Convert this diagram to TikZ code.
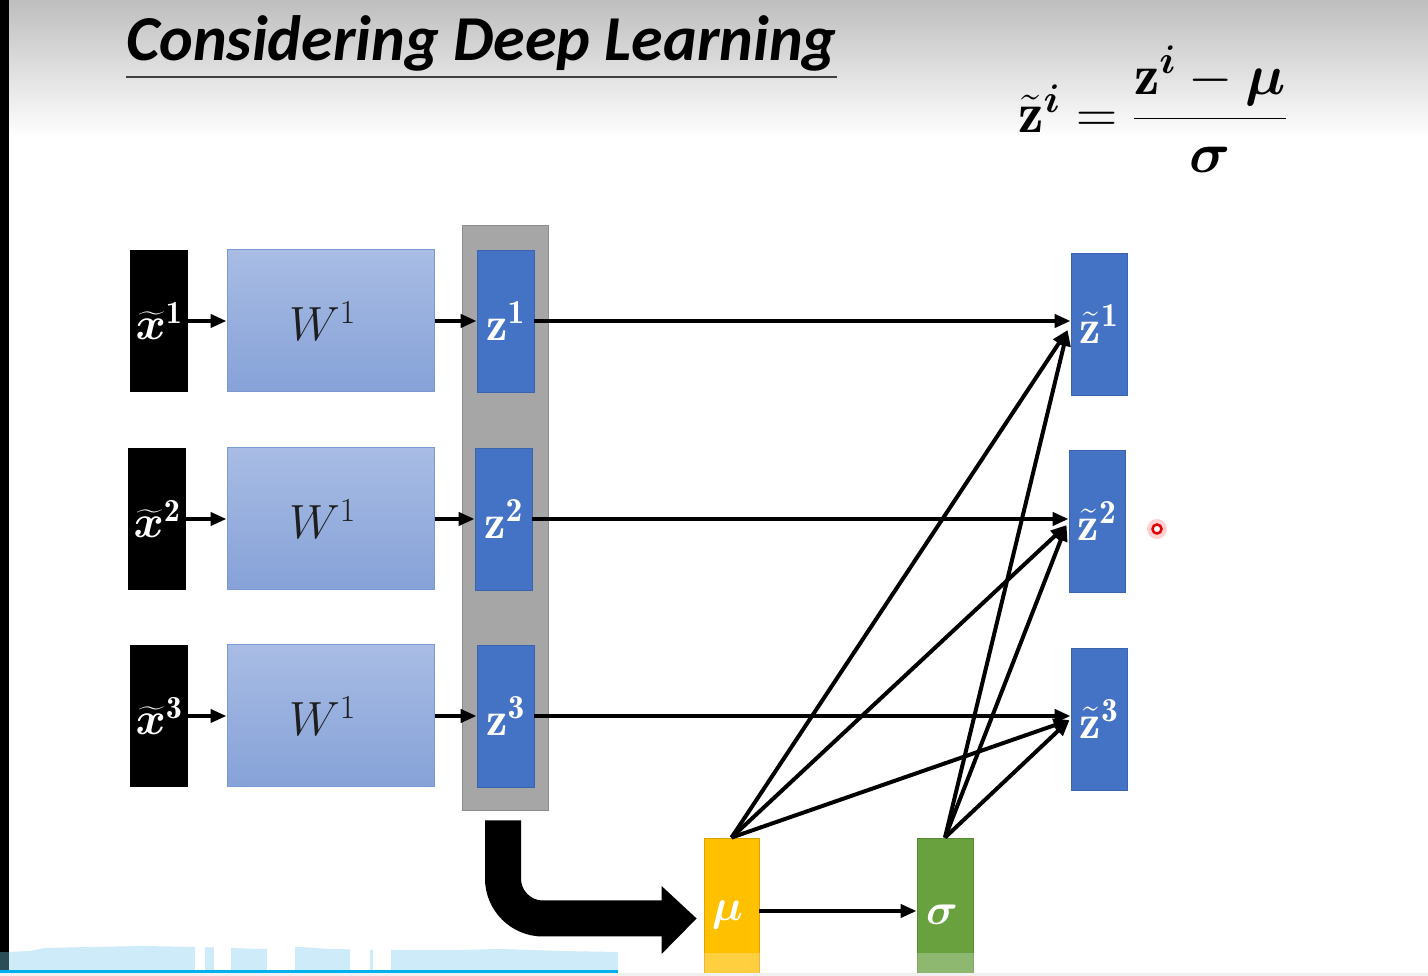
\RequirePackage{fix-cm}
\documentclass[tikz,border=0pt]{standalone}
\usepackage{amsmath,bm}
\usepackage{fontspec}
\newfontfamily\titlefont{Carlito}
\usetikzlibrary{arrows.meta,calc}
\definecolor{bgtop}{RGB}{190,190,190}
\definecolor{zblue}{HTML}{4472C4}
\definecolor{zborder}{HTML}{3C64AE}
\definecolor{wtop}{HTML}{A8BCE4}
\definecolor{wbot}{HTML}{86A2D8}
\definecolor{wborder}{HTML}{7A9AD6}
\definecolor{wtext}{HTML}{1E1E1E}
\definecolor{colgray}{HTML}{A6A6A6}
\definecolor{colborder}{HTML}{8C8C8C}
\definecolor{muyellow}{HTML}{FFC000}
\definecolor{sggreen}{HTML}{69A13F}
\definecolor{barblue}{HTML}{CDEBF8}
\definecolor{lineblue}{HTML}{00B0F0}
\definecolor{teal}{HTML}{2B4D58}
\newcommand\myfs[1]{\fontsize{#1}{#1}\selectfont}
\newcommand\padr[1]{\hspace{#1}\mbox{}}
\begin{document}
\begin{tikzpicture}[x=1pt,y=1pt,
  conn/.style={-{Triangle[length=16pt,width=13pt]},line width=4pt},
  xbox/.style={fill=black,minimum width=58pt,minimum height=142pt,inner sep=0pt,text=white,font=\myfs{46}},
  wbox/.style={draw=wborder,line width=1pt,top color=wtop,bottom color=wbot,minimum width=207pt,minimum height=142pt,inner sep=0pt,text=wtext,font=\myfs{48}},
  zbox/.style={fill=zblue,draw=zborder,line width=0.8pt,minimum width=57pt,minimum height=142pt,inner sep=0pt,text=white,font=\myfs{48}},
  statbox/.style={line width=0.8pt,minimum width=55pt,minimum height=154pt,inner sep=0pt,text=white,font=\myfs{44}}]
\useasboundingbox (0,0) rectangle (1428,976);
\clip (0,0) rectangle (1428,976);
\fill[white] (0,0) rectangle (1428,976);
\shade[top color=bgtop,bottom color=white] (0,838) rectangle (1428,976);
\fill[black] (0,0) rectangle (9,976);

% title
\node[anchor=base west,inner sep=0pt,font=\titlefont\bfseries\itshape\myfs{64}] (title) at (126,915) {Considering Deep Learning};
\draw[line width=2pt,black!75] ([yshift=-16pt]title.base west) -- ([yshift=-16pt]title.base east);

% formula
\node[anchor=base west,inner sep=0pt,font=\myfs{57}] (formula) at (1018,843)
  {$\tilde{\mathbf{z}}^{\bm{i}} = \dfrac{\mathbf{z}^{\bm{i}} - \bm{\mu}}{\bm{\sigma}}$};

% gray column
\node[fill=colgray,draw=colborder,line width=1pt,minimum width=86pt,minimum height=585pt,inner sep=0pt] (zcol) at (505,457.5) {};

% inputs
\node[xbox] (x1) at (159,655) {$\widetilde{\bm{x}}^{\mathbf{1}}$};
\node[xbox] (x2) at (157,457) {$\widetilde{\bm{x}}^{\mathbf{2}}$};
\node[xbox] (x3) at (159,260) {$\widetilde{\bm{x}}^{\mathbf{3}}$};

% weights
\node[wbox] (w1) at (330.5,655) {$W^1$\padr{16pt}};
\node[wbox] (w2) at (330.5,457) {$W^1$\padr{16pt}};
\node[wbox] (w3) at (330.5,260) {$W^1$\padr{16pt}};

% z
\node[zbox] (z1) at (505.5,655) {$\mathbf{z}^{\mathbf{1}}$};
\node[zbox] (z2) at (503.5,457) {$\mathbf{z}^{\mathbf{2}}$};
\node[zbox] (z3) at (505.5,260) {$\mathbf{z}^{\mathbf{3}}$};

% z tilde
\node[zbox,minimum width=56pt] (zt1) at (1099,652) {$\tilde{\mathbf{z}}^{\mathbf{1}}$};
\node[zbox,minimum width=56pt] (zt2) at (1097,455) {$\tilde{\mathbf{z}}^{\mathbf{2}}$};
\node[zbox,minimum width=56pt] (zt3) at (1099,257) {$\tilde{\mathbf{z}}^{\mathbf{3}}$};

% mu, sigma
\node[statbox,fill=muyellow,draw=muyellow!85!black] (mu) at (731.5,61) {$\bm{\mu}$\padr{8pt}};
\node[statbox,fill=sggreen,draw=sggreen!85!black,minimum width=56pt] (sigma) at (945,61) {$\bm{\sigma}$\padr{6pt}};

% arrows
\foreach \i in {1,2,3}{
  \draw[conn] (x\i.east) -- (w\i.west);
  \draw[conn] (w\i.east) -- (z\i.west);
  \draw[conn] (z\i.east) -- (z\i.east -| zt\i.west);
}
\coordinate (e1) at ([xshift=-3pt,yshift=-6pt]zt1.west);
\coordinate (e2) at ([xshift=-2pt,yshift=-4pt]zt2.west);
\coordinate (e3) at ([xshift=-1pt,yshift=-1pt]zt3.west);
\foreach \i in {1,2,3}{
  \draw[conn] (mu.north) -- (e\i);
  \draw[conn] (sigma.north) -- (e\i);
}
\draw[conn] ([yshift=4pt]mu.east) -- ([yshift=4pt]sigma.west);

% big bent arrow
\draw[line width=36pt,rounded corners=40pt] ([xshift=-2pt,yshift=-9pt]zcol.south) |- ([xshift=-35pt,yshift=-3.5pt]mu.west);
\fill ([xshift=-42pt,yshift=29pt]mu.west) -- ([xshift=-7pt,yshift=-3.5pt]mu.west) -- ([xshift=-42pt,yshift=-39pt]mu.west) -- cycle;

% pointer
\fill[red!18] (1157,447) circle (10);
\draw[red!90!black,line width=2.5pt,fill=white] (1157,447) circle (4.5);

% video overlay at bottom
\fill[white,opacity=0.25] (0,3) rectangle (1428,23);
\fill[gray!12] (0,0) rectangle (1428,3);
\fill[barblue] (9,6) -- (9,24) -- (30,25) -- (45,28) -- (90,29) -- (140,30) -- (200,29) -- (260,27) -- (300,29) -- (330,27) -- (380,26) -- (460,26) -- (500,27) -- (560,25) -- (618,24) -- (618,6) -- cycle;
\foreach \a/\b in {195/205,214/231,267/295,350/370,373/391}{
  \fill[white] (\a,6) rectangle (\b,31);
}
\fill[teal] (0,6) rectangle (9,24);
\fill[lineblue] (0,3) rectangle (618,6);
\end{tikzpicture}
\end{document}
